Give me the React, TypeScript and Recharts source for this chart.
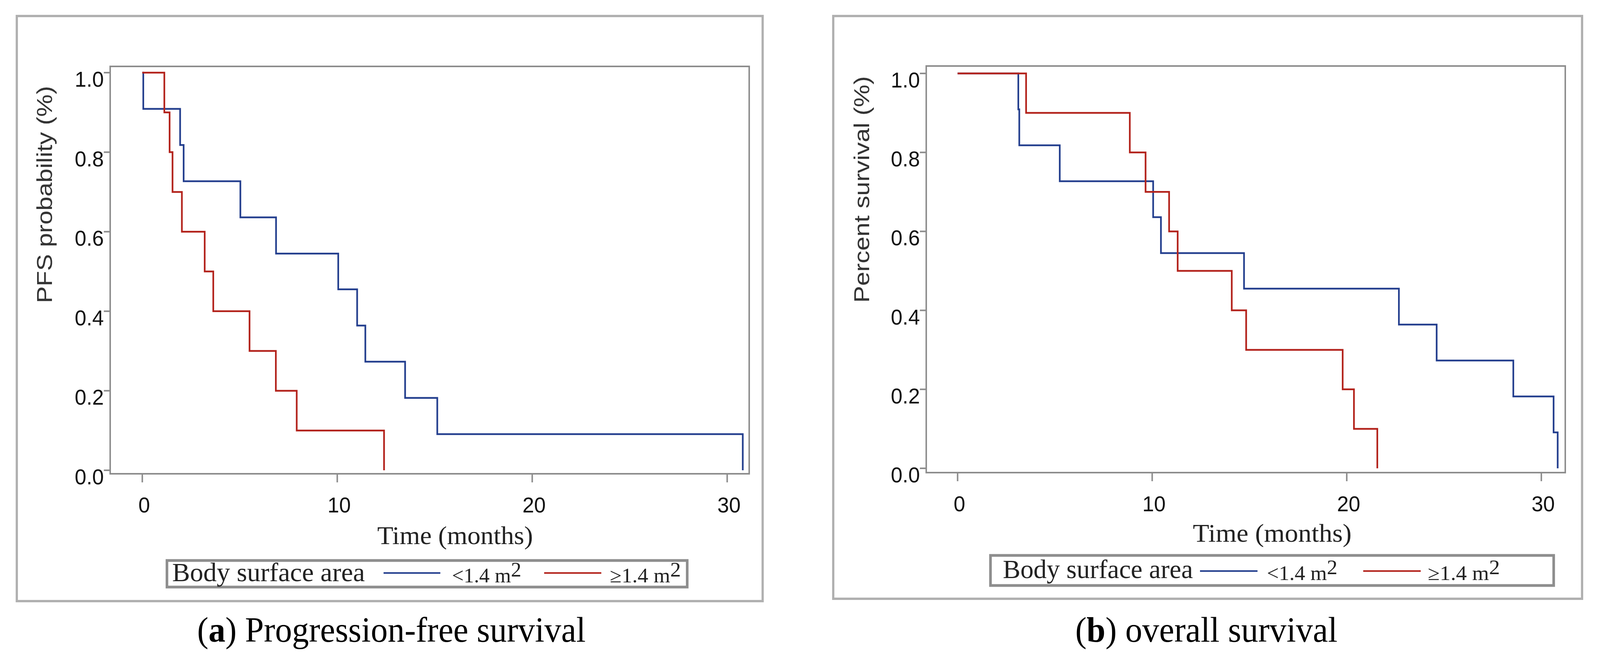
import React from 'react';
import { LineChart, Line, XAxis, YAxis, ReferenceArea } from 'recharts';

// ---------- data ----------
const groupNames = ['<1.4 m', '≥1.4 m'];
const legendTitle = 'Body surface area';
const xTicks = [0, 10, 20, 30];
const yTicks = [0, 0.2, 0.4, 0.6, 0.8, 1.0];

// (a) Progression-free survival
const pfsLowTime = [0, 0.05, 1.94, 2.12, 5.03, 6.86, 10.05, 11.02, 11.44, 13.48, 15.13, 30.8];
const pfsLowSurv = [1, 0.909, 0.818, 0.727, 0.636, 0.545, 0.455, 0.364, 0.273, 0.182, 0.091, 0];
const pfsHighTime = [0, 1.13, 1.4, 1.55, 2.03, 3.2, 3.64, 5.5, 6.85, 7.92, 12.4];
const pfsHighSurv = [1, 0.9, 0.8, 0.7, 0.6, 0.5, 0.4, 0.3, 0.2, 0.1, 0];

// (b) overall survival
const osLowTime = [0, 3.12, 3.17, 5.25, 10.05, 10.45, 14.72, 22.68, 24.62, 28.56, 30.63, 30.84];
const osLowSurv = [1, 0.909, 0.818, 0.727, 0.636, 0.545, 0.455, 0.364, 0.273, 0.182, 0.091, 0];
const osHighTime = [0, 3.52, 8.85, 9.66, 10.87, 11.31, 14.09, 14.83, 19.79, 20.37, 21.57];
const osHighSurv = [1, 0.9, 0.8, 0.7, 0.6, 0.5, 0.4, 0.3, 0.2, 0.1, 0];

const toSeries = (t: number[], s: number[]) => t.map((x, i) => ({ t: x, s: s[i] }));

// ---------- styles ----------
const BLUE = '#243f8e';
const RED = '#b3231c';
const FRAME = '#8c8c8c';
const SANS = '"Liberation Sans", Arial, sans-serif';
const SERIF = '"Liberation Serif", "Times New Roman", serif';

const YTick = (props: any) => {
  const { x, y, payload } = props;
  return (
    <text x={x} y={y + 36} textAnchor="end" fontFamily={SANS} fontSize={56} fill="#111">
      {Number(payload.value).toFixed(1)}
    </text>
  );
};
const XTick = (props: any) => {
  const { x, y, payload } = props;
  return (
    <text x={x + 5} y={y + 77} textAnchor="middle" fontFamily={SANS} fontSize={56} fill="#111">
      {payload.value}
    </text>
  );
};

type PanelProps = {
  left: number;
  margin: { top: number; right: number; bottom: number; left: number };
  yAxisWidth: number;
  xDomain: [number, number];
  yDomain: [number, number];
  low: { t: number; s: number }[];
  high: { t: number; s: number }[];
};

const Panel = ({ left, margin, yAxisWidth, xDomain, yDomain, low, high }: PanelProps) => (
  <div style={{ position: 'absolute', left, top: 0, width: 2142, height: 1700 }}>
    <LineChart width={2142} height={1700} margin={margin}>
      <XAxis
        type="number"
        dataKey="t"
        domain={xDomain}
        allowDataOverflow
        ticks={xTicks}
        interval={0}
        height={150}
        axisLine={false}
        tickSize={22}
        tickMargin={0}
        tickLine={{ stroke: FRAME, strokeWidth: 4 }}
        tick={<XTick />}
      />
      <YAxis
        type="number"
        dataKey="s"
        domain={yDomain}
        allowDataOverflow
        ticks={yTicks}
        interval={0}
        width={yAxisWidth}
        axisLine={false}
        tickSize={17}
        tickMargin={0}
        tickLine={{ stroke: FRAME, strokeWidth: 4 }}
        tick={<YTick />}
      />
      <ReferenceArea
        x1={xDomain[0]}
        x2={xDomain[1]}
        y1={yDomain[0]}
        y2={yDomain[1]}
        fill="none"
        fillOpacity={0}
        stroke={FRAME}
        strokeWidth={4}
        ifOverflow="visible"
      />
      <Line data={low} dataKey="s" type="stepAfter" stroke={BLUE} strokeWidth={4.5} dot={false} isAnimationActive={false} name={groupNames[0]} />
      <Line data={high} dataKey="s" type="stepAfter" stroke={RED} strokeWidth={4.5} dot={false} isAnimationActive={false} name={groupNames[1]} />
    </LineChart>
  </div>
);

type LegendProps = {
  box: [number, number, number, number];
  titleX: number; titleLen: number; baseline: number;
  lineY: number; blue: [number, number]; red: [number, number];
  lowX: number; highX: number; labelBaseline: number; labelLen: number;
};

const LegendBox = (p: LegendProps) => (
  <g>
    <rect x={p.box[0]} y={p.box[1]} width={p.box[2] - p.box[0]} height={p.box[3] - p.box[1]} fill="#fff" stroke="#8e8e8e" strokeWidth={7} />
    <text x={p.titleX} y={p.baseline} fontFamily={SERIF} fontSize={68} fill="#222" textLength={p.titleLen} lengthAdjust="spacingAndGlyphs">
      {legendTitle}
    </text>
    <line x1={p.blue[0]} x2={p.blue[1]} y1={p.lineY} y2={p.lineY} stroke={BLUE} strokeWidth={4} />
    <line x1={p.red[0]} x2={p.red[1]} y1={p.lineY} y2={p.lineY} stroke={RED} strokeWidth={4} />
    <text x={p.lowX} y={p.labelBaseline} fontFamily={SERIF} fontSize={52} fill="#222" textLength={p.labelLen} lengthAdjust="spacingAndGlyphs">
      {groupNames[0]}
      <tspan dy={-15}>2</tspan>
    </text>
    <text x={p.highX} y={p.labelBaseline} fontFamily={SERIF} fontSize={52} fill="#222" textLength={p.labelLen + 4} lengthAdjust="spacingAndGlyphs">
      {groupNames[1]}
      <tspan dy={-15}>2</tspan>
    </text>
  </g>
);

export default function App() {
  // the layout is designed for 4284 px; fit it to the actual viewport width if narrower
  const iw = typeof window !== 'undefined' ? window.innerWidth : 4284;
  const kx = Math.min(1, iw / 4284);
  return (
    <div style={{ position: 'absolute', left: 0, top: 0, width: 4284, height: 1700, background: '#fff', overflow: 'hidden', transform: `scale(${kx}, 1)`, transformOrigin: '0 0' }}>
      <svg width={4284} height={1700} style={{ position: 'absolute', left: 0, top: 0 }}>
        {/* outer boxes */}
        <rect x={45} y={41} width={1997} height={1498} fill="none" stroke="#b0b0b0" strokeWidth={6} />
        <rect x={2231} y={41} width={2005} height={1492} fill="none" stroke="#b0b0b0" strokeWidth={6} />

        {/* axis titles, panel a */}
        <text x={139} y={498} transform="rotate(-90 139 498)" textAnchor="middle" fontFamily={SANS} fontSize={58} fill="#333" textLength={556} lengthAdjust="spacingAndGlyphs">
          PFS probability (%)
        </text>
        <text x={1010} y={1393} fontFamily={SERIF} fontSize={66} fill="#222" textLength={417} lengthAdjust="spacingAndGlyphs">
          Time (months)
        </text>

        {/* axis titles, panel b */}
        <text x={2327} y={485} transform="rotate(-90 2327 485)" textAnchor="middle" fontFamily={SANS} fontSize={58} fill="#333" textLength={580} lengthAdjust="spacingAndGlyphs">
          Percent survival (%)
        </text>
        <text x={3194} y={1387} fontFamily={SERIF} fontSize={66} fill="#222" textLength={425} lengthAdjust="spacingAndGlyphs">
          Time (months)
        </text>

        <LegendBox box={[447, 1435, 1840, 1503]} titleX={461} titleLen={516} baseline={1488} lineY={1467}
          blue={[1027, 1179]} red={[1457, 1610]} lowX={1210} highX={1633} labelBaseline={1491} labelLen={186} />
        <LegendBox box={[2652, 1422, 4160, 1499]} titleX={2685} titleLen={509} baseline={1480} lineY={1462}
          blue={[3213, 3367]} red={[3650, 3804]} lowX={3392} highX={3823} labelBaseline={1485} labelLen={189} />

        {/* captions */}
        <text x={528} y={1643} fontFamily={SERIF} fontSize={90} fill="#000" textLength={1040} lengthAdjust="spacingAndGlyphs">
          (<tspan fontWeight="bold">a</tspan>) Progression-free survival
        </text>
        <text x={2879} y={1643} fontFamily={SERIF} fontSize={90} fill="#000" textLength={702} lengthAdjust="spacingAndGlyphs">
          (<tspan fontWeight="bold">b</tspan>) overall survival
        </text>
      </svg>

      <Panel
        left={0}
        margin={{ top: 170, right: 136, bottom: 1700 - 1213 - 150, left: 0 }}
        yAxisWidth={295}
        xDomain={[-1.648, 31.13]}
        yDomain={[-0.0088, 1.0157]}
        low={toSeries(pfsLowTime, pfsLowSurv)}
        high={toSeries(pfsHighTime, pfsHighSurv)}
      />
      <Panel
        left={2142}
        margin={{ top: 169, right: 2142 - 2049, bottom: 1700 - 1210 - 150, left: 0 }}
        yAxisWidth={338}
        xDomain={[-1.612, 31.23]}
        yDomain={[-0.0109, 1.0188]}
        low={toSeries(osLowTime, osLowSurv)}
        high={toSeries(osHighTime, osHighSurv)}
      />
    </div>
  );
}
